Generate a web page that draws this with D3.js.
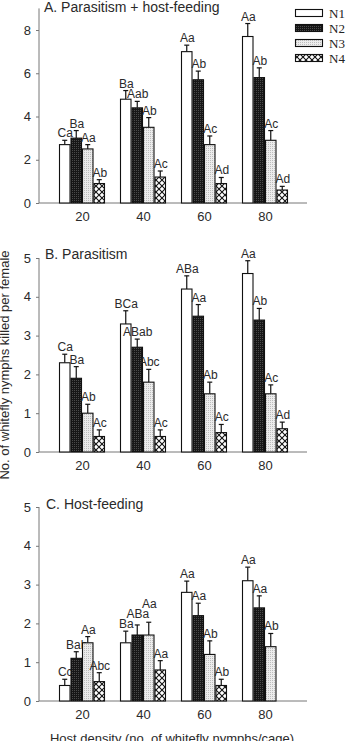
<!DOCTYPE html>
<html><head><meta charset="utf-8">
<script src="https://cdn.jsdelivr.net/npm/d3@7"></script>
<style>
html,body{margin:0;padding:0;background:#fff;}
svg{display:block;}
text{font-family:"Liberation Sans",Arial,sans-serif;fill:#2a2a2a;}
.leg{font-family:"Liberation Serif","Times New Roman",serif;fill:#222;}
</style></head>
<body><svg id="c" width="348" height="741"></svg>
<script>
const groups = ["20","40","60","80"];
const series = ["N1","N2","N3","N4"];

// Panel A: Parasitism + host-feeding
const aMeans = {N1:[2.7,4.8,7.0,7.7], N2:[3.0,4.4,5.7,5.8], N3:[2.5,3.5,2.7,2.9], N4:[0.9,1.2,0.9,0.6]};
const aErr   = {N1:[2.9,5.2,7.3,8.3], N2:[3.35,4.7,6.1,6.25], N3:[2.7,3.95,3.1,3.35], N4:[1.08,1.48,1.18,0.77]};
const aLab   = {N1:["Ca","Ba","Aa","Aa"], N2:["Ba","Aab","Ab","Ab"], N3:["Aa","Ab","Ac","Ac"], N4:["Ab","Ac","Ad","Ad"]};

// Panel B: Parasitism
const bMeans = {N1:[2.3,3.3,4.2,4.6], N2:[1.9,2.7,3.5,3.4], N3:[1.0,1.8,1.5,1.5], N4:[0.4,0.4,0.5,0.6]};
const bErr   = {N1:[2.52,3.64,4.54,4.93], N2:[2.2,2.91,3.8,3.7], N3:[1.23,2.13,1.8,1.73], N4:[0.57,0.57,0.71,0.77]};
const bLab   = {N1:["Ca","BCa","ABa","Aa"], N2:["Ba","ABab","Aa","Ab"], N3:["Ab","Abc","Ab","Ac"], N4:["Ac","Ac","Ac","Ad"]};

// Panel C: Host-feeding
const cMeans = {N1:[0.4,1.5,2.8,3.1], N2:[1.1,1.7,2.2,2.4], N3:[1.5,1.7,1.2,1.4], N4:[0.5,0.8,0.4,null]};
const cErr   = {N1:[0.56,1.8,3.09,3.45], N2:[1.27,1.96,2.52,2.71], N3:[1.66,2.03,1.55,1.74], N4:[0.73,1.04,0.56,null]};
const cLab   = {N1:["Cc","Ba","Aa","Aa"], N2:["Bab","ABa","Aa","Aa"], N3:["Aa","Aa","Ab","Ab"], N4:["Abc","Aa","Ab",null]};

const yTicksA = [0,2,4,6,8];
const yTicksBC = [0,1,2,3,4,5];

const svg = d3.select("#c");
const defs = svg.append("defs");
let p = defs.append("pattern").attr("id","pN2").attr("patternUnits","userSpaceOnUse").attr("width",2).attr("height",2);
p.append("rect").attr("width",2).attr("height",2).attr("fill","#171717");
p.append("rect").attr("width",1).attr("height",1).attr("fill","#4a4a4a");
p = defs.append("pattern").attr("id","pN3").attr("patternUnits","userSpaceOnUse").attr("width",2).attr("height",2);
p.append("rect").attr("width",2).attr("height",2).attr("fill","#ececec");
p.append("rect").attr("width",1).attr("height",1).attr("fill","#bdbdbd");
p = defs.append("pattern").attr("id","pN4").attr("patternUnits","userSpaceOnUse").attr("width",6).attr("height",6);
p.append("rect").attr("width",6).attr("height",6).attr("fill","#fff");
p.append("path").attr("d","M0,0L6,6M6,0L0,6").attr("stroke","#111").attr("stroke-width",1.1);

const fills = {N1:"#fff", N2:"url(#pN2)", N3:"url(#pN3)", N4:"url(#pN4)"};

const x = d3.scalePoint().domain(groups).range([82,265]);
const xi = d3.scaleBand().domain(series).range([-23,23]);
const axisL = 39, axisR = 307;
const LFS = 12;

function panel(opts){
  const y = d3.scaleLinear().domain([0,opts.max]).range([opts.y0, opts.y1]);
  const g = svg.append("g");
  const ya = g.append("g").attr("transform",`translate(${axisL},0)`)
    .call(d3.axisLeft(y).tickValues(opts.ticks).tickSize(3).tickPadding(5).tickFormat(d3.format("d")));
  ya.select(".domain").attr("stroke","#777").attr("d",`M0,${opts.y0}V${opts.y1}`);
  ya.selectAll(".tick line").attr("stroke","#777");
  ya.selectAll(".tick text").style("font-size","13px").style("font-family","Liberation Sans, Arial, sans-serif").attr("fill","#2a2a2a");
  const xa = g.append("g").attr("transform",`translate(0,${opts.y0})`)
    .call(d3.axisBottom(x).tickSize(0).tickPadding(9));
  xa.select(".domain").attr("stroke","#777").attr("d",`M${axisL},0H${axisR}`);
  xa.selectAll(".tick text").style("font-size","13px").style("font-family","Liberation Sans, Arial, sans-serif").attr("fill","#2a2a2a");
  groups.forEach((gr,i)=>{
    const placed = [];
    series.forEach(s=>{
      const v = opts.means[s][i];
      if(v==null) return;
      const bx = x(gr)+xi(s), bw = xi.bandwidth();
      const cx = bx + bw/2;
      const e = opts.err[s][i];
      g.append("line").attr("x1",cx).attr("x2",cx).attr("y1",y(v)).attr("y2",y(e)).attr("stroke","#111").attr("stroke-width",1.2);
      g.append("line").attr("x1",cx-2.5).attr("x2",cx+2.5).attr("y1",y(e)).attr("y2",y(e)).attr("stroke","#111").attr("stroke-width",1.2);
      g.append("rect").attr("x",bx+0.5).attr("y",y(v)).attr("width",bw-1).attr("height",y(0)-y(v))
        .attr("fill",fills[s]).attr("stroke","#111").attr("stroke-width",1.1);
      const lab = opts.labels[s][i];
      if(!lab) return;
      const t = g.append("text").attr("x",cx+0.5).attr("text-anchor","middle")
        .style("font-size",LFS+"px").text(lab);
      const w = t.node().getComputedTextLength();
      let base = y(e)-3;
      const l = cx+0.5-w/2, r = cx+0.5+w/2;
      // lift label above any overlapping earlier label in the same group
      placed.forEach(b=>{
        const hOv = Math.min(r,b.r)-Math.max(l,b.l);
        const top = base-9.5, bot = base+0.5;
        const vOv = Math.min(bot,b.bot)-Math.max(top,b.top);
        if(hOv>1 && vOv>2){ base = b.top-0.5; }
      });
      t.attr("y",base);
      placed.push({l,r,top:base-9.5,bot:base+0.5});
    });
  });
  g.append("text").attr("x",opts.tx).attr("y",opts.ty).style("font-size","14px").text(opts.title);
}

panel({max:9, y0:203, y1:8.4, ticks:yTicksA, means:aMeans, err:aErr, labels:aLab, title:"A. Parasitism + host-feeding", tx:44, ty:12});
panel({max:5, y0:452, y1:258, ticks:yTicksBC, means:bMeans, err:bErr, labels:bLab, title:"B. Parasitism", tx:45, ty:259});
panel({max:5, y0:701, y1:507, ticks:yTicksBC, means:cMeans, err:cErr, labels:cLab, title:"C. Host-feeding", tx:46, ty:509});

const leg = svg.append("g");
series.forEach((s,i)=>{
  const cy = 13 + i*15;
  leg.append("rect").attr("x",295.5).attr("y",cy-3.5).attr("width",27).attr("height",7).attr("fill",fills[s]).attr("stroke","#111").attr("stroke-width",1.1);
  leg.append("text").attr("class","leg").attr("x",329).attr("y",cy+4.5).style("font-size","13px").text(s);
});

svg.append("text").attr("transform","translate(8.5,365) rotate(-90)").attr("text-anchor","middle")
  .style("font-size","13px").text("No. of whitefly nymphs killed per female");
svg.append("text").attr("x",172).attr("y",742.5).attr("text-anchor","middle")
  .style("font-size","13px").text("Host density (no. of whitefly nymphs/cage)");
</script></body></html>
